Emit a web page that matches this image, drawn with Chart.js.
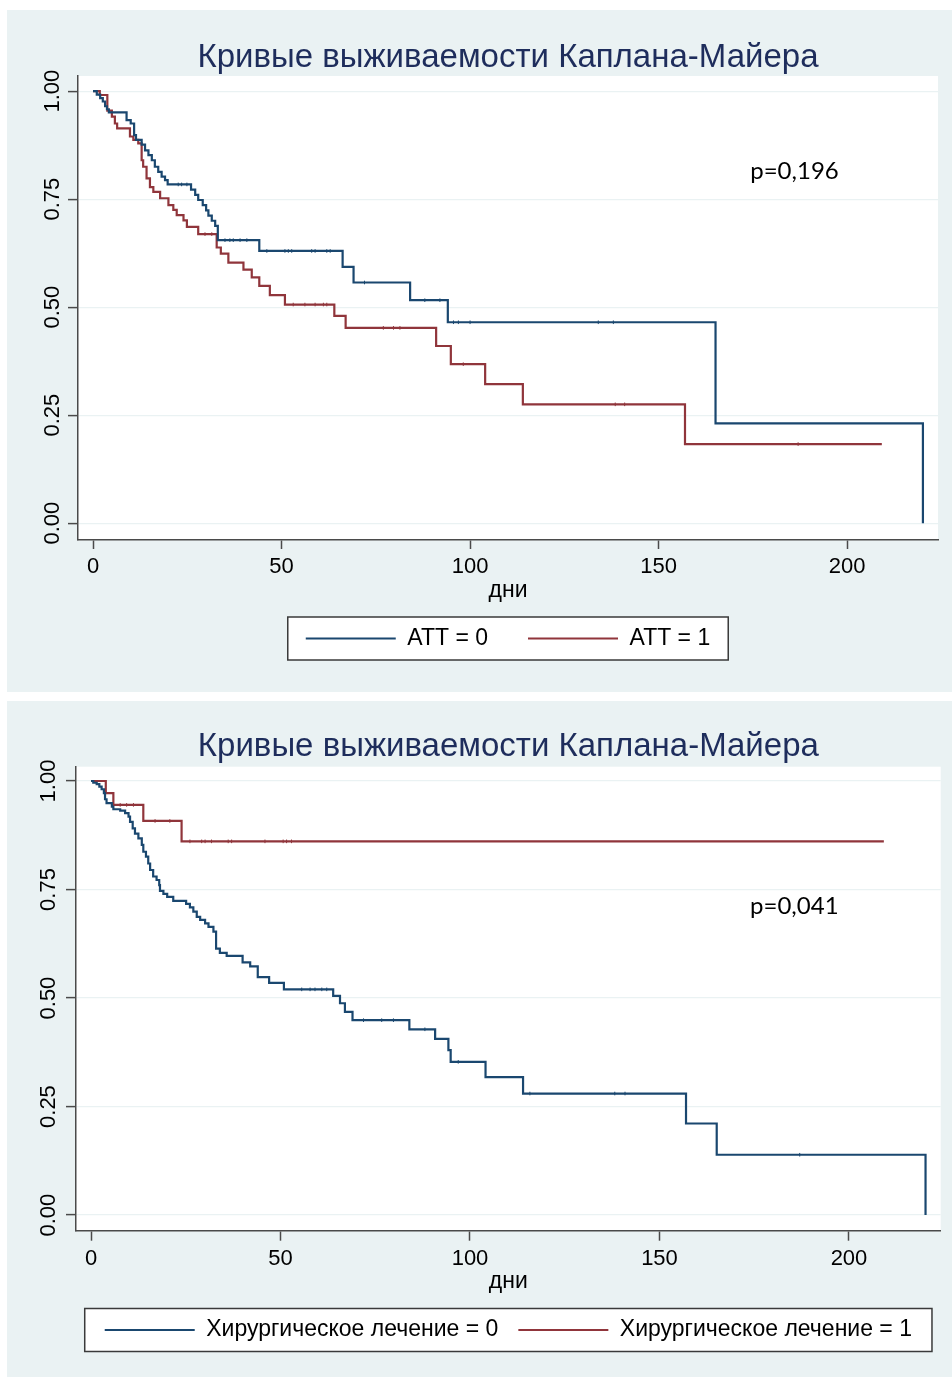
<!DOCTYPE html>
<html>
<head>
<meta charset="utf-8">
<title>Кривые выживаемости Каплана-Майера</title>
<script src="https://cdn.jsdelivr.net/npm/chart.js@4.4.1/dist/chart.umd.min.js"></script>
<style>
  html, body { margin: 0; padding: 0; background: #ffffff; }
  body { width: 952px; height: 1377px; position: relative; overflow: hidden; }
  .panel { position: absolute; left: 7px; width: 945px; background: #eaf2f3; }
  #panelAtt { top: 10px; height: 682px; }
  #panelSurg { top: 701px; height: 676px; }
  canvas { display: block; }
</style>
</head>
<body>
<div class="panel" id="panelAtt"><canvas id="chartAtt" width="945" height="682"></canvas></div>
<div class="panel" id="panelSurg"><canvas id="chartSurg" width="945" height="676"></canvas></div>
<script>
// ---- shared text and axis ticks ----
const kmTitle = 'Кривые выживаемости Каплана-Майера';
const xAxisTitle = 'дни';
const xTicks = [0, 50, 100, 150, 200];
const xTickLabels = ['0', '50', '100', '150', '200'];
const yTicks = [0, 0.25, 0.5, 0.75, 1];
const yTickLabels = ['0.00', '0.25', '0.50', '0.75', '1.00'];

// ---- chart 1: ATT ----
const attLabels = ['ATT = 0', 'ATT = 1'];
const att0Days = [0, 1.0, 1.9, 2.6, 3.2, 3.7, 4.2, 8.9, 10.0, 10.9, 11.4, 12.9, 13.8, 14.7, 15.6,
  16.4, 17.3, 18.2, 19.1, 19.8, 26.0, 27.1, 27.9, 29.1, 30.0, 30.6, 31.5, 32.4, 33.1, 44.1,
  66.2, 69.1, 84.1, 94.1, 165.1, 220.1];
const att0Surv = [1, 0.992, 0.984, 0.976, 0.965, 0.958, 0.951, 0.933, 0.925, 0.898, 0.887, 0.876, 0.863, 0.852, 0.840,
  0.825, 0.813, 0.802, 0.794, 0.784, 0.772, 0.760, 0.748, 0.736, 0.724, 0.712, 0.700, 0.688, 0.655, 0.630,
  0.593, 0.557, 0.516, 0.465, 0.231, 0];
const att0Censored = [22.6, 23.5, 24.9, 35.0, 36.3, 37.2, 39.0, 40.8, 46.1, 50.9, 51.8, 52.7, 58.0, 58.9,
  62.0, 62.9, 72.0, 88.0, 92.0, 95.6, 96.9, 100.0, 134.0, 138.0];
const att1Days = [0, 1.8, 3.8, 5.0, 5.8, 6.4, 9.8, 10.7, 12.0, 12.9, 13.3, 14.2, 15.1, 16.0, 17.8,
  20.0, 21.3, 22.2, 24.0, 24.9, 27.9, 32.8, 33.9, 35.9, 39.9, 42.1, 44.1, 46.9, 50.9, 64.0,
  67.0, 91.0, 94.9, 104.0, 114.0, 157.0, 209.2];
const att1Surv = [1, 0.991, 0.955, 0.941, 0.925, 0.914, 0.895, 0.887, 0.879, 0.840, 0.825, 0.798, 0.778, 0.767, 0.752,
  0.736, 0.725, 0.713, 0.701, 0.686, 0.669, 0.638, 0.624, 0.603, 0.587, 0.569, 0.549, 0.528, 0.506, 0.480,
  0.452, 0.410, 0.368, 0.322, 0.275, 0.183, 0.183];
const att1Censored = [29.7, 31.5, 53.1, 56.2, 58.9, 61.1, 62.0, 77.0, 79.7, 81.4, 98.2, 138.5, 141.0, 187.0];
const attPValue = 'p=0,196';

// ---- chart 2: surgical treatment ----
const surgLabels = ['Хирургическое лечение = 0', 'Хирургическое лечение = 1'];
const surg0Days = [0, 0.6, 1.5, 2.2, 2.8, 3.4, 3.7, 4.1, 5.5, 5.9, 7.7, 9.0, 9.9, 10.3, 11.0,
  11.6, 12.5, 13.4, 13.8, 14.5, 15.1, 15.6, 16.4, 17.3, 18.0, 18.2, 19.1, 20.1, 21.7, 25.1,
  26.1, 27.0, 27.9, 28.8, 30.1, 31.0, 32.3, 33.0, 34.0, 35.8, 40.0, 42.0, 44.0, 47.0, 50.9,
  63.9, 65.7, 67.0, 69.0, 84.0, 90.8, 94.3, 94.9, 104.1, 114.0, 157.0, 165.1, 220.2];
const surg0Surv = [1, 0.996, 0.993, 0.987, 0.981, 0.972, 0.958, 0.949, 0.941, 0.935, 0.932, 0.926, 0.918, 0.906, 0.891,
  0.879, 0.868, 0.853, 0.837, 0.826, 0.810, 0.795, 0.780, 0.772, 0.760, 0.747, 0.740, 0.733, 0.724, 0.717,
  0.709, 0.699, 0.687, 0.680, 0.672, 0.664, 0.653, 0.614, 0.604, 0.597, 0.582, 0.573, 0.548, 0.535, 0.520,
  0.505, 0.488, 0.468, 0.449, 0.428, 0.406, 0.380, 0.353, 0.318, 0.280, 0.211, 0.139, 0];
const surg0Censored = [55.6, 57.8, 59.1, 60.9, 62.2, 71.9, 76.7, 79.8, 88.1, 96.9, 115.8, 138.2, 140.9, 187.0];
const surg1Days = [0, 3.9, 5.9, 13.8, 23.9, 209.2];
const surg1Surv = [1, 0.972, 0.945, 0.908, 0.861, 0.861];
const surg1Censored = [7.7, 9.4, 11.2, 16.9, 20.8, 26.1, 29.2, 30.1, 31.8, 36.2, 37.1, 45.9, 50.7, 51.6, 52.9];
const surgPValue = 'p=0,041';

// ---- styling ----
const NAVY = '#1a476f';
const MAROON = '#90353b';
const TITLE_COLOR = '#1e2d5c';
const AXIS_COLOR = '#4a4a4a';
const GRID_COLOR = '#eaf2f3';
const TEXT_COLOR = '#000000';

Chart.defaults.font.family = "'Liberation Sans', Arial, sans-serif";

// white plot region
const plotRegion = {
  id: 'plotRegion',
  beforeDraw(chart) {
    const { ctx, chartArea: a } = chart;
    ctx.save();
    ctx.fillStyle = '#ffffff';
    ctx.fillRect(a.left, a.top, a.right - a.left, a.bottom - a.top);
    ctx.restore();
  }
};

// white box with a thin frame behind the legend items
const legendFrame = {
  id: 'legendFrame',
  beforeDraw(chart, args, opts) {
    const lg = chart.legend;
    if (!lg || !lg.legendHitBoxes || !lg.legendHitBoxes.length) return;
    const hb = lg.legendHitBoxes;
    const left = Math.min(...hb.map(h => h.left)) - opts.padLeft;
    const right = Math.max(...hb.map(h => h.left + h.width)) + opts.padRight;
    const cy = hb[0].top + hb[0].height / 2;
    const { ctx } = chart;
    ctx.save();
    ctx.fillStyle = '#ffffff';
    ctx.fillRect(left, cy - opts.height / 2, right - left, opts.height);
    ctx.strokeStyle = opts.color;
    ctx.lineWidth = opts.lineWidth;
    ctx.strokeRect(left, cy - opts.height / 2, right - left, opts.height);
    ctx.restore();
  }
};

// p-value note placed in data coordinates
const pValueNote = {
  id: 'pValueNote',
  afterDatasetsDraw(chart, args, opts) {
    const { ctx, scales } = chart;
    ctx.save();
    ctx.font = opts.font;
    ctx.fillStyle = opts.color;
    ctx.textAlign = 'left';
    ctx.textBaseline = 'middle';
    ctx.fillText(opts.text, scales.x.getPixelForValue(opts.x), scales.y.getPixelForValue(opts.y));
    ctx.restore();
  }
};

// survival step curve
function kmDataset(label, days, surv, color) {
  return {
    label,
    data: days.map((d, i) => ({ x: d, y: surv[i] })),
    borderColor: color,
    backgroundColor: color,
    borderWidth: 2.2,
    pointRadius: 0,
    pointHoverRadius: 0,
    stepped: 'before',
    fill: false,
    borderJoinStyle: 'miter',
    borderCapStyle: 'butt'
  };
}

// small vertical ticks for censored observations, sitting on the curve level
function levelAt(days, surv, t) {
  let k = 0;
  for (let i = 0; i < days.length; i++) if (days[i] <= t) k = i;
  return surv[k];
}
function censorDataset(days, surv, censored, color) {
  return {
    label: '',
    data: censored.map(t => ({ x: t, y: levelAt(days, surv, t) })),
    showLine: false,
    pointStyle: 'line',
    pointRotation: 90,
    pointRadius: 1.8,
    pointHoverRadius: 0,
    pointBorderWidth: 1,
    pointBorderColor: color,
    borderColor: color,
    backgroundColor: color
  };
}

function buildChart(canvasId, datasets, pText, g) {
  return new Chart(document.getElementById(canvasId), {
    type: 'line',
    data: { datasets },
    plugins: [plotRegion, legendFrame, pValueNote],
    options: {
      responsive: false,
      animation: false,
      events: [],
      layout: { padding: { left: g.padLeft, right: g.padRight, top: 0, bottom: g.padBottom } },
      plugins: {
        title: {
          display: true,
          text: kmTitle,
          color: TITLE_COLOR,
          font: { size: 33, weight: 'normal' },
          padding: { top: g.titleTop, bottom: g.titleBottom }
        },
        legend: {
          display: true,
          position: 'bottom',
          labels: {
            usePointStyle: true,
            pointStyle: 'line',
            pointStyleWidth: 90,
            padding: g.legendGap,
            color: TEXT_COLOR,
            font: { size: 23 },
            filter: (item) => item.datasetIndex < 2
          }
        },
        tooltip: { enabled: false },
        legendFrame: { padLeft: g.frameLeft, padRight: g.frameRight, height: 43, color: '#3a3a3a', lineWidth: 1.5 },
        pValueNote: { text: pText, x: g.noteX, y: g.noteY, font: "24px Lato, 'Liberation Sans', sans-serif", color: TEXT_COLOR }
      },
      scales: {
        x: {
          type: 'linear',
          min: g.xMin,
          max: g.xMax,
          afterBuildTicks: (s) => { s.ticks = xTicks.map(v => ({ value: v })); },
          afterFit: (s) => { s.height = g.xAxisHeight; },
          ticks: {
            autoSkip: false,
            maxRotation: 0,
            color: TEXT_COLOR,
            font: { size: 22 },
            padding: g.xTickPad,
            callback: (v) => xTickLabels[xTicks.indexOf(v)]
          },
          grid: { drawOnChartArea: false, drawTicks: true, tickLength: g.xTickLen, tickColor: AXIS_COLOR, tickWidth: 1.5 },
          border: { display: true, color: AXIS_COLOR, width: 1.5 },
          title: {
            display: true,
            text: xAxisTitle,
            color: TEXT_COLOR,
            font: { size: 23 },
            padding: { top: 0, bottom: g.xTitlePadBottom }
          }
        },
        y: {
          type: 'linear',
          min: g.yMin,
          max: g.yMax,
          afterBuildTicks: (s) => { s.ticks = yTicks.map(v => ({ value: v })); },
          afterFit: (s) => { s.width = 0; },
          ticks: {
            autoSkip: false,
            mirror: true,
            minRotation: 90,
            maxRotation: 90,
            crossAlign: 'center',
            padding: g.yTickPad,
            color: TEXT_COLOR,
            font: { size: 22 },
            callback: (v) => yTickLabels[yTicks.indexOf(v)]
          },
          grid: { color: GRID_COLOR, lineWidth: 1.2, drawTicks: true, tickLength: 10, tickColor: AXIS_COLOR, tickWidth: 1.5 },
          border: { display: true, color: AXIS_COLOR, width: 1.5 }
        }
      }
    }
  });
}

buildChart('chartAtt', [
  kmDataset(attLabels[0], att0Days, att0Surv, NAVY),
  kmDataset(attLabels[1], att1Days, att1Surv, MAROON),
  censorDataset(att0Days, att0Surv, att0Censored, NAVY),
  censorDataset(att1Days, att1Surv, att1Censored, MAROON)
], attPValue, {
  padLeft: 71, padRight: 14, padBottom: 32,
  titleTop: 28, titleBottom: -1.6,
  xMin: -3.98, xMax: 224.1, yMin: -0.039, yMax: 1.035,
  xAxisHeight: 47, xTickLen: 9, xTickPad: 5, xTitlePadBottom: -17.8,
  yTickPad: -46,
  legendGap: 40, frameLeft: 18, frameRight: 18,
  noteX: 174.3, noteY: 0.815
});

buildChart('chartSurg', [
  kmDataset(surgLabels[0], surg0Days, surg0Surv, NAVY),
  kmDataset(surgLabels[1], surg1Days, surg1Surv, MAROON),
  censorDataset(surg0Days, surg0Surv, surg0Censored, NAVY),
  censorDataset(surg1Days, surg1Surv, surg1Censored, MAROON)
], surgPValue, {
  padLeft: 69, padRight: 11.3, padBottom: 25.5,
  titleTop: 26.2, titleBottom: -0.1,
  xMin: -3.96, xMax: 224.2, yMin: -0.036, yMax: 1.033,
  xAxisHeight: 67.8, xTickLen: 10, xTickPad: 5, xTitlePadBottom: 2.7,
  yTickPad: -48,
  legendGap: 20, frameLeft: 20, frameRight: 20,
  noteX: 173.9, noteY: 0.712
});
</script>
</body>
</html>
